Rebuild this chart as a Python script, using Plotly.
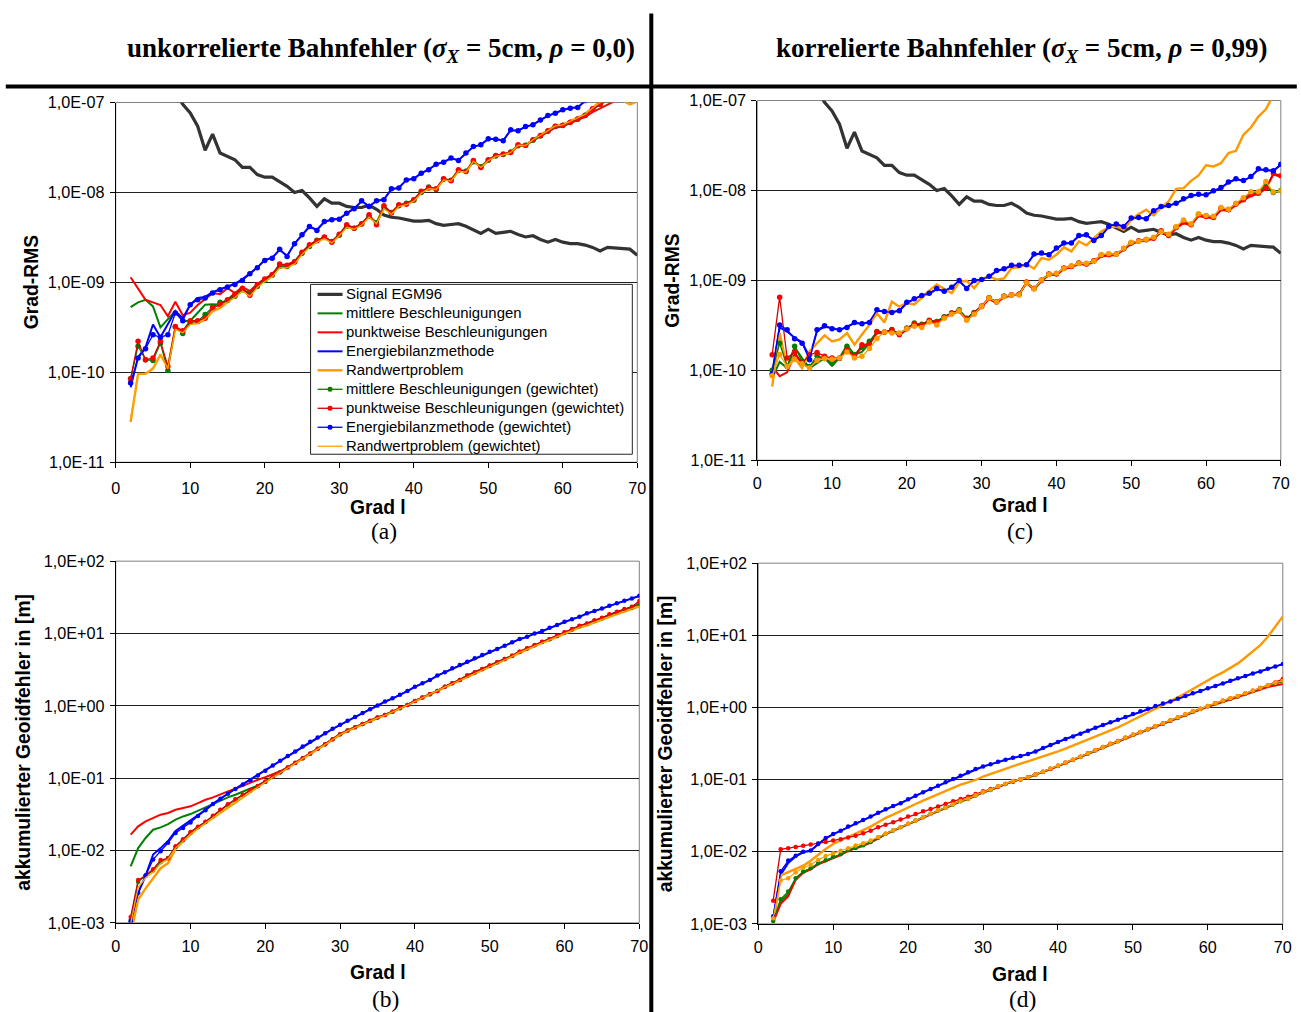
import plotly.graph_objects as go

W, H = 1301, 1012

# Spherical harmonic degree l
GRAD = list(range(2, 71))

# Grad-RMS lists (panels a and c) are given in units of 1e-10
RMS_UNIT = 1e-10

# ---- signal degree RMS (EGM96), shown in panels (a) and (c)
signal_egm96 = [9000, 6500, 4500, 3300, 2400, 1800, 1300, 955, 767, 545,
                295, 445, 275, 251, 231, 190, 190, 158, 148, 148,
                132, 117, 100, 105, 87, 70, 85, 76, 76, 70,
                68, 68, 72, 65, 56, 53, 52, 50, 48, 48,
                49, 45, 43, 44, 45, 42, 38, 35, 39, 35,
                36, 37, 34, 32, 33, 30, 28, 30, 28, 27,
                27, 26, 24.5, 22.4, 24.5, 24, 23.4, 23.4, 20]

# ---- (a) uncorrelated orbit errors, Grad-RMS [1e-10]
a_mittlere = [5.3, 6.0, 6.4, 5.4, 3.16, 3.9, 4.8, 3.7, 3.75, 4.6,
              5.65, 5.7, 5.65, 6.4, 7.6, 8.3, 7.6, 9.2, 10.6, 12.0,
              15.2, 15.2, 17.0, 21.2, 25.5, 29.5, 31.5, 28.5, 33.5, 42.5,
              40.0, 44.5, 54.5, 46.0, 68.0, 60.0, 71.0, 75.0, 82.0, 100.0,
              114.0, 109.0, 140.0, 137.0, 176.0, 172.0, 222.0, 193.0, 229.0, 256.0,
              266.0, 280.0, 333.0, 334.0, 382.0, 428.0, 482.0, 542.0, 558.0, 602.0,
              655.0, 720.0, 845.0, 950.0, 1070.0, 1150.0, 1240.0, 1340.0, 1440.0]
a_punkt = [11.4, 8.5, 6.4, 6.0, 5.6, 4.2, 6.1, 4.3, 4.6, 5.6,
           6.6, 7.6, 7.4, 8.6, 7.6, 8.9, 8.0, 9.6, 11.0, 12.3,
           15.5, 15.8, 17.0, 21.5, 26.0, 29.0, 31.5, 28.5, 34.0, 43.0,
           40.5, 45.0, 55.0, 45.0, 70.0, 60.0, 72.0, 75.0, 83.0, 101.0,
           112.0, 111.0, 140.0, 136.0, 176.0, 172.0, 222.0, 192.0, 230.0, 255.0,
           265.0, 276.0, 330.0, 330.0, 378.0, 420.0, 470.0, 525.0, 545.0, 590.0,
           640.0, 695.0, 780.0, 860.0, 960.0, 1040.0, 1120.0, 1220.0, 1320.0]
a_energie = [0.68, 1.47, 1.9, 3.4, 2.45, 3.4, 4.8, 4.0, 5.65, 6.7,
             6.9, 7.8, 8.4, 9.1, 9.7, 10.8, 12.6, 14.6, 17.8, 18.8,
             23.0, 19.8, 27.0, 33.5, 41.5, 38.5, 47.0, 50.0, 51.0, 58.5,
             66.5, 80.0, 70.5, 80.0, 84.0, 108.0, 113.0, 137.0, 143.0, 163.0,
             180.0, 205.0, 218.0, 240.0, 228.0, 272.0, 322.0, 340.0, 392.0, 393.0,
             378.0, 492.0, 486.0, 538.0, 568.0, 638.0, 712.0, 765.0, 825.0, 870.0,
             885.0, 1040.0, 1150.0, 1250.0, 1350.0, 1450.0, 1550.0, 1650.0, 1800.0]
a_rand = [0.28, 0.96, 0.96, 1.1, 1.57, 1.12, 3.1, 2.8, 3.5, 3.5,
          3.85, 4.8, 5.2, 6.1, 7.0, 8.2, 7.1, 9.0, 10.4, 11.8,
          15.0, 14.8, 16.3, 21.0, 25.0, 28.5, 31.0, 28.0, 33.5, 42.0,
          39.5, 44.0, 54.0, 46.0, 68.0, 58.0, 71.0, 74.0, 81.0, 100.0,
          110.0, 109.0, 140.0, 135.0, 175.0, 170.0, 225.0, 190.0, 228.0, 255.0,
          265.0, 280.0, 338.0, 335.0, 388.0, 435.0, 492.0, 552.0, 570.0, 620.0,
          680.0, 745.0, 880.0, 1010.0, 1060.0, 1090.0, 1060.0, 950.0, 1030.0]
a_mittlere_gew = [0.85, 1.95, 1.38, 1.35, 2.1, 1.05, 3.2, 2.7, 3.6, 3.7,
                  4.4, 5.3, 6.0, 6.3, 7.0, 8.3, 7.5, 9.0, 10.5, 12.0,
                  15.0, 15.0, 17.0, 21.0, 25.0, 29.5, 31.5, 28.5, 33.5, 42.0,
                  40.0, 45.0, 54.0, 46.0, 68.0, 60.0, 71.0, 76.0, 82.0, 100.0,
                  115.0, 108.0, 140.0, 137.0, 175.0, 172.0, 220.0, 193.0, 228.0, 255.0,
                  265.0, 281.0, 330.0, 335.0, 380.0, 425.0, 480.0, 540.0, 560.0, 600.0,
                  650.0, 720.0, 840.0, 950.0, 1070.0, 1150.0, 1240.0, 1340.0, 1440.0]
a_punkt_gew = [0.85, 2.21, 1.38, 1.44, 2.21, 1.17, 3.24, 2.9, 3.75, 3.75,
               4.0, 5.2, 5.65, 6.4, 7.4, 8.6, 7.2, 9.4, 10.9, 12.2,
               16.0, 15.5, 16.8, 21.7, 26.2, 29.0, 32.0, 28.0, 34.4, 43.7,
               40.0, 44.5, 56.5, 43.7, 71.0, 59.0, 73.0, 74.0, 83.0, 103.0,
               112.0, 110.0, 142.0, 135.0, 179.0, 171.0, 227.0, 190.0, 231.0, 258.0,
               267.0, 278.0, 339.0, 333.0, 385.0, 430.0, 484.0, 546.0, 555.0, 604.0,
               658.0, 717.0, 851.0, 956.0, 1080.0, 1150.0, 1250.0, 1350.0, 1450.0]
a_energie_gew = [0.76, 1.44, 1.83, 2.62, 2.45, 2.62, 4.56, 3.75, 5.65, 6.4,
                 6.7, 7.6, 8.3, 8.9, 9.5, 10.5, 12.5, 14.5, 17.5, 18.6,
                 23.4, 19.4, 26.9, 33.9, 41.9, 37.8, 47.6, 49.7, 50.5, 58.9,
                 65.9, 80.7, 69.8, 80.7, 83.0, 110.0, 112.0, 138.0, 142.0, 164.0,
                 179.0, 206.0, 217.0, 241.0, 227.0, 274.0, 324.0, 339.0, 395.0, 391.0,
                 375.0, 497.0, 484.0, 541.0, 565.0, 641.0, 717.0, 761.0, 829.0, 865.0,
                 880.0, 1050.0, 1150.0, 1250.0, 1350.0, 1450.0, 1550.0, 1650.0, 1800.0]
a_rand_gew = [0.3, 0.95, 0.97, 1.12, 1.6, 1.1, 3.0, 2.75, 3.4, 3.5,
              3.9, 4.8, 5.3, 6.0, 6.8, 8.0, 7.0, 8.8, 10.2, 11.5,
              14.5, 14.5, 16.0, 20.5, 24.5, 28.0, 30.5, 27.5, 33.0, 41.0,
              39.0, 43.5, 53.0, 45.0, 66.0, 57.0, 70.0, 73.0, 80.0, 98.0,
              110.0, 108.0, 138.0, 134.0, 172.0, 168.0, 222.0, 190.0, 226.0, 252.0,
              262.0, 278.0, 335.0, 333.0, 385.0, 432.0, 490.0, 550.0, 565.0, 615.0,
              675.0, 740.0, 870.0, 1000.0, 1050.0, 1100.0, 1080.0, 960.0, 1040.0]

# ---- (c) correlated orbit errors, Grad-RMS [1e-10]
c_mittlere = [0.82, 1.24, 1.06, 1.8, 1.37, 1.06, 1.2, 1.37, 1.12, 1.37,
              1.9, 1.49, 1.6, 2.0, 2.6, 2.6, 2.8, 2.5, 2.9, 3.3,
              3.2, 3.55, 3.45, 3.9, 4.3, 4.65, 3.75, 4.35, 5.15, 6.3,
              5.75, 6.6, 6.85, 6.95, 9.4, 8.0, 10.0, 11.6, 11.8, 13.5,
              14.2, 15.4, 15.2, 16.3, 19.0, 19.3, 19.4, 22.4, 26.0, 27.2,
              28.2, 29.5, 35.0, 31.8, 38.6, 45.0, 41.8, 53.5, 51.5, 50.5,
              63.0, 61.0, 70.5, 79.5, 91.0, 94.5, 113.0, 94.0, 99.0]
c_punkt = [1.1, 0.86, 0.95, 1.5, 1.2, 1.06, 1.4, 1.37, 1.2, 1.37,
           1.7, 1.45, 1.8, 1.95, 2.6, 2.6, 2.75, 2.45, 2.85, 3.2,
           3.15, 3.5, 3.4, 3.8, 4.25, 4.5, 3.65, 4.25, 5.05, 6.2,
           5.6, 6.5, 6.8, 7.0, 9.3, 7.9, 9.8, 11.5, 11.5, 13.4,
           14.0, 15.2, 14.8, 16.1, 18.5, 18.8, 19.2, 22.0, 25.4, 27.0,
           27.7, 28.8, 34.5, 30.8, 37.8, 43.3, 40.7, 52.0, 50.0, 49.0,
           60.5, 59.5, 68.5, 76.5, 87.0, 91.0, 105.0, 150.0, 142.0]
c_energie = [0.95, 3.0, 2.7, 2.3, 2.05, 1.4, 2.75, 3.05, 2.95, 2.8,
             3.05, 3.35, 3.3, 3.45, 4.6, 4.5, 4.45, 4.6, 5.6, 6.2,
             6.8, 7.1, 8.0, 7.6, 8.4, 9.8, 8.2, 9.9, 10.2, 11.0,
             12.7, 13.4, 14.5, 14.6, 14.9, 19.3, 19.9, 19.4, 22.6, 25.7,
             26.0, 31.2, 31.8, 28.0, 31.4, 39.4, 41.8, 39.6, 48.8, 49.6,
             48.4, 58.8, 65.5, 67.4, 72.0, 80.0, 87.0, 90.0, 89.0, 98.0,
             107.0, 122.0, 133.0, 128.0, 142.0, 171.0, 168.0, 165.0, 193.0]
c_rand = [0.66, 2.6, 1.06, 1.37, 1.06, 1.63, 2.0, 2.45, 2.1, 2.2,
          2.6, 1.93, 2.5, 3.2, 4.3, 3.4, 5.8, 5.1, 5.6, 5.4,
          6.4, 7.7, 9.0, 8.0, 7.2, 9.6, 9.9, 8.2, 10.4, 11.1,
          10.2, 10.5, 13.7, 14.0, 15.2, 13.5, 17.7, 17.0, 19.3, 23.3,
          21.0, 27.1, 24.5, 29.5, 35.0, 38.8, 39.8, 36.6, 47.2, 54.6,
          61.0, 52.7, 64.7, 75.5, 104.0, 106.0, 128.0, 147.0, 190.0, 185.0,
          201.0, 260.0, 276.0, 416.0, 501.0, 664.0, 800.0, 1150.0, 1400.0]
c_mittlere_gew = [1.0, 2.0, 1.1, 1.85, 1.25, 1.1, 1.45, 1.35, 1.2, 1.35,
                  1.85, 1.5, 1.8, 2.1, 2.7, 2.65, 2.85, 2.55, 2.95, 3.35,
                  3.25, 3.6, 3.5, 3.95, 4.35, 4.7, 3.8, 4.4, 5.2, 6.4,
                  5.8, 6.7, 6.9, 7.0, 9.5, 8.1, 10.1, 11.7, 11.9, 13.6,
                  14.4, 15.5, 15.3, 16.4, 19.2, 19.5, 19.5, 22.6, 26.2, 27.4,
                  28.5, 29.8, 35.2, 32.0, 39.0, 45.5, 42.0, 54.0, 52.0, 50.8,
                  63.5, 61.5, 71.0, 80.0, 92.0, 95.0, 115.0, 95.0, 100.0]
c_punkt_gew = [1.49, 6.5, 1.37, 1.6, 1.2, 1.49, 1.58, 1.43, 1.37, 1.37,
               1.7, 1.43, 1.93, 1.93, 2.67, 2.67, 2.8, 2.49, 2.9, 3.27,
               3.2, 3.56, 3.45, 3.88, 4.34, 4.6, 3.72, 4.34, 5.14, 6.36,
               5.74, 6.64, 6.93, 7.0, 9.6, 8.1, 10.0, 11.8, 11.8, 13.7,
               14.3, 15.6, 15.2, 16.5, 19.0, 19.3, 19.6, 22.5, 26.0, 27.6,
               28.3, 29.5, 35.6, 31.6, 38.8, 44.5, 41.6, 53.7, 51.4, 50.1,
               62.5, 61.0, 70.5, 78.7, 89.5, 93.3, 106.0, 156.0, 146.0]
c_energie_gew = [0.91, 3.2, 2.83, 2.25, 2.0, 1.31, 2.83, 3.13, 2.9, 2.83,
                 3.0, 3.4, 3.3, 3.4, 4.7, 4.5, 4.4, 4.6, 5.7, 6.25,
                 6.8, 7.2, 8.1, 7.55, 8.4, 10.0, 8.1, 10.0, 10.2, 11.1,
                 12.9, 13.5, 14.7, 14.7, 14.9, 19.6, 20.1, 19.3, 22.9, 26.0,
                 26.0, 31.6, 32.2, 27.8, 31.6, 39.8, 42.3, 39.8, 49.3, 50.1,
                 48.4, 59.4, 66.4, 68.1, 72.3, 80.8, 88.0, 91.0, 89.5, 99.0,
                 108.0, 124.0, 135.0, 129.0, 143.0, 174.0, 170.0, 166.0, 196.0]
c_rand_gew = [0.87, 1.5, 1.1, 1.33, 1.18, 1.06, 1.29, 1.35, 1.33, 1.37,
              1.6, 1.37, 1.43, 1.75, 2.26, 2.67, 2.6, 2.6, 2.9, 3.1,
              3.0, 3.45, 3.2, 3.8, 4.2, 4.6, 3.6, 4.2, 5.14, 6.36,
              5.74, 6.64, 6.9, 6.9, 9.4, 8.0, 10.1, 11.6, 12.0, 13.6,
              14.5, 15.4, 15.5, 16.3, 19.4, 19.8, 19.5, 22.8, 26.5, 27.2,
              28.7, 30.2, 34.8, 32.5, 39.5, 47.0, 42.5, 55.0, 52.5, 51.5,
              64.5, 62.0, 72.0, 83.0, 97.0, 97.0, 126.0, 96.0, 99.0]

# ---- (b) uncorrelated orbit errors, accumulated geoid error [m]
b_mittlere = [0.00605, 0.0108, 0.0149, 0.0194, 0.0209, 0.0232, 0.0267, 0.0296, 0.0319, 0.0355,
              0.0394, 0.0439, 0.0488, 0.0542, 0.059, 0.066, 0.072, 0.079, 0.0905, 0.1045,
              0.121, 0.141, 0.163, 0.189, 0.219, 0.255, 0.295, 0.346, 0.406, 0.456,
              0.507, 0.563, 0.62, 0.689, 0.75, 0.83, 0.93, 1.03, 1.17, 1.3,
              1.45, 1.61, 1.84, 2.05, 2.28, 2.62, 2.9, 3.22, 3.58, 3.98,
              4.42, 4.9, 5.56, 6.18, 6.86, 7.62, 8.3, 9.2, 10.2, 11.3,
              12.5, 13.5, 14.9, 16.1, 17.9, 19.4, 21.1, 22.7, 25.2]
b_punkt = [0.0166, 0.0216, 0.0253, 0.0281, 0.0313, 0.033, 0.0366, 0.0386, 0.0408, 0.0453,
           0.0503, 0.0542, 0.0603, 0.0656, 0.0714, 0.079, 0.087, 0.095, 0.103, 0.113,
           0.125, 0.141, 0.163, 0.189, 0.219, 0.255, 0.295, 0.346, 0.406, 0.456,
           0.507, 0.563, 0.62, 0.689, 0.75, 0.83, 0.93, 1.03, 1.17, 1.3,
           1.45, 1.61, 1.84, 2.05, 2.28, 2.62, 2.91, 3.24, 3.6, 4.0,
           4.45, 4.94, 5.6, 6.22, 6.9, 7.68, 8.35, 9.28, 10.3, 11.4,
           12.6, 13.6, 15.0, 16.2, 18.0, 19.5, 21.2, 22.6, 25.0]
b_energie = [0.00096, 0.0026, 0.0045, 0.0088, 0.0108, 0.0135, 0.0186, 0.0219, 0.0257, 0.0305,
             0.0365, 0.0445, 0.0525, 0.0615, 0.0715, 0.083, 0.0955, 0.111, 0.128, 0.149,
             0.173, 0.2, 0.232, 0.272, 0.316, 0.363, 0.417, 0.479, 0.544, 0.618,
             0.7, 0.795, 0.894, 1.0, 1.14, 1.26, 1.41, 1.6, 1.83, 2.04,
             2.27, 2.61, 2.9, 3.28, 3.65, 4.06, 4.52, 5.02, 5.58, 6.07,
             6.75, 7.5, 8.34, 8.98, 9.95, 10.7, 11.9, 13.0, 14.4, 15.7,
             17.0, 18.9, 20.3, 22.1, 24.1, 26.0, 28.3, 30.4, 33.0]
b_rand = [0.0007, 0.0021, 0.003, 0.0041, 0.0057, 0.0067, 0.0106, 0.0134, 0.0166, 0.0205,
          0.024, 0.0281, 0.033, 0.0386, 0.046, 0.0545, 0.0648, 0.076, 0.0885, 0.1025,
          0.1185, 0.1385, 0.1605, 0.1865, 0.2165, 0.2515, 0.2915, 0.341, 0.399, 0.449,
          0.499, 0.554, 0.609, 0.678, 0.738, 0.818, 0.918, 1.018, 1.15, 1.28,
          1.43, 1.58, 1.8, 2.01, 2.24, 2.56, 2.85, 3.17, 3.52, 3.91,
          4.34, 4.82, 5.45, 6.05, 6.72, 7.46, 8.12, 9.0, 9.95, 10.95,
          12.1, 13.0, 14.3, 15.4, 17.0, 18.5, 20.1, 21.7, 23.8]
b_mittlere_gew = [0.0011, 0.0037, 0.0045, 0.0053, 0.0069, 0.0079, 0.0112, 0.0139, 0.0176, 0.021,
                  0.0248, 0.0298, 0.0362, 0.043, 0.0505, 0.0585, 0.0675, 0.0774, 0.0893, 0.104,
                  0.1205, 0.1405, 0.1625, 0.1885, 0.2185, 0.2545, 0.2945, 0.345, 0.405, 0.455,
                  0.506, 0.562, 0.619, 0.688, 0.749, 0.829, 0.929, 1.03, 1.17, 1.3,
                  1.45, 1.61, 1.84, 2.05, 2.28, 2.62, 2.9, 3.23, 3.59, 3.99,
                  4.43, 4.92, 5.58, 6.2, 6.88, 7.65, 8.32, 9.25, 10.3, 11.4,
                  12.6, 13.6, 15.0, 16.2, 18.0, 19.6, 21.3, 22.9, 25.5]
b_punkt_gew = [0.00121, 0.0039, 0.0045, 0.0055, 0.0074, 0.0078, 0.0115, 0.0143, 0.018, 0.0214,
               0.025, 0.0302, 0.0367, 0.0436, 0.0512, 0.059, 0.068, 0.078, 0.0895, 0.1045,
               0.121, 0.141, 0.163, 0.189, 0.219, 0.255, 0.295, 0.346, 0.406, 0.456,
               0.507, 0.563, 0.62, 0.689, 0.75, 0.83, 0.93, 1.03, 1.17, 1.3,
               1.45, 1.61, 1.84, 2.05, 2.28, 2.62, 2.91, 3.24, 3.6, 4.0,
               4.45, 4.94, 5.61, 6.24, 6.93, 7.71, 8.39, 9.33, 10.4, 11.5,
               12.8, 13.8, 15.3, 16.5, 18.4, 20.0, 21.8, 23.4, 28.1]
b_energie_gew = [0.00105, 0.0026, 0.0045, 0.0075, 0.0098, 0.0128, 0.0175, 0.0205, 0.0245, 0.03,
                 0.036, 0.044, 0.052, 0.061, 0.071, 0.082, 0.094, 0.109, 0.127, 0.15,
                 0.174, 0.202, 0.234, 0.274, 0.318, 0.365, 0.419, 0.481, 0.546, 0.62,
                 0.703, 0.798, 0.897, 1.01, 1.15, 1.27, 1.42, 1.61, 1.84, 2.05,
                 2.28, 2.62, 2.91, 3.3, 3.67, 4.08, 4.54, 5.05, 5.61, 6.1,
                 6.79, 7.55, 8.39, 9.04, 10.0, 10.8, 12.0, 13.1, 14.5, 15.8,
                 17.1, 19.0, 20.4, 22.2, 24.2, 26.1, 28.4, 30.5, 33.2]
b_rand_gew = [0.00098, 0.0031, 0.0042, 0.005, 0.0066, 0.0076, 0.0108, 0.0135, 0.0168, 0.0202,
              0.024, 0.0288, 0.0338, 0.0398, 0.0468, 0.055, 0.0652, 0.0765, 0.089, 0.103,
              0.119, 0.139, 0.161, 0.187, 0.217, 0.252, 0.292, 0.342, 0.4, 0.45,
              0.5, 0.555, 0.61, 0.68, 0.74, 0.82, 0.92, 1.02, 1.15, 1.28,
              1.43, 1.59, 1.81, 2.02, 2.25, 2.57, 2.86, 3.18, 3.53, 3.92,
              4.35, 4.83, 5.47, 6.08, 6.75, 7.5, 8.15, 9.05, 10.0, 11.0,
              12.2, 13.1, 14.4, 15.5, 17.1, 18.6, 20.2, 21.8, 24.0]

# ---- (d) correlated orbit errors, accumulated geoid error [m]
d_mittlere = [0.00111, 0.00206, 0.0026, 0.0042, 0.0052, 0.0058, 0.0068, 0.0075, 0.0084, 0.0091,
              0.0104, 0.0112, 0.0122, 0.0135, 0.0155, 0.0176, 0.0196, 0.0218, 0.0243, 0.027,
              0.03, 0.0334, 0.0371, 0.0404, 0.045, 0.05, 0.0538, 0.0599, 0.0667, 0.0718,
              0.0798, 0.0869, 0.0946, 0.1, 0.107, 0.117, 0.127, 0.14, 0.154, 0.17,
              0.187, 0.205, 0.229, 0.254, 0.28, 0.311, 0.339, 0.377, 0.415, 0.452,
              0.497, 0.547, 0.596, 0.655, 0.721, 0.793, 0.873, 0.95, 1.035, 1.13,
              1.23, 1.32, 1.42, 1.55, 1.69, 1.84, 2.0, 2.15, 2.3]
d_punkt = [0.00105, 0.0019, 0.0024, 0.0041, 0.0051, 0.0057, 0.0067, 0.0074, 0.0083, 0.009,
           0.0103, 0.0111, 0.0121, 0.0134, 0.0154, 0.0175, 0.0195, 0.0217, 0.0242, 0.0269,
           0.0299, 0.0333, 0.037, 0.0403, 0.0449, 0.0499, 0.0537, 0.0598, 0.0666, 0.0717,
           0.0797, 0.0868, 0.0945, 0.1, 0.107, 0.117, 0.127, 0.14, 0.154, 0.17,
           0.187, 0.205, 0.228, 0.253, 0.279, 0.31, 0.338, 0.375, 0.413, 0.45,
           0.494, 0.543, 0.591, 0.649, 0.714, 0.785, 0.863, 0.938, 1.02, 1.11,
           1.21, 1.29, 1.39, 1.51, 1.64, 1.78, 1.92, 2.02, 2.11]
d_energie = [0.0012, 0.0048, 0.007, 0.0086, 0.0098, 0.0103, 0.0127, 0.0153, 0.0174, 0.0195,
             0.0221, 0.0246, 0.0273, 0.0305, 0.0346, 0.0385, 0.0429, 0.0467, 0.053, 0.0596,
             0.0664, 0.0738, 0.082, 0.0912, 0.1015, 0.1125, 0.1255, 0.1395, 0.1515, 0.1625,
             0.1755, 0.1885, 0.1995, 0.2115, 0.2255, 0.2455, 0.2735, 0.3005, 0.3315, 0.3645,
             0.3965, 0.4315, 0.4755, 0.5235, 0.5695, 0.6205, 0.6755, 0.7355, 0.8105, 0.8825,
             0.9595, 1.044, 1.136, 1.209, 1.319, 1.439, 1.569, 1.689, 1.839, 1.979,
             2.149, 2.339, 2.529, 2.719, 2.959, 3.159, 3.439, 3.699, 3.989]
d_rand = [0.00095, 0.0047, 0.0052, 0.0058, 0.0064, 0.0075, 0.0091, 0.0109, 0.0128, 0.0143,
          0.0158, 0.0176, 0.0196, 0.0223, 0.0256, 0.0294, 0.0327, 0.0363, 0.0413, 0.0459,
          0.051, 0.0568, 0.0631, 0.0703, 0.0766, 0.0851, 0.0917, 0.0987, 0.11, 0.12,
          0.13, 0.143, 0.156, 0.166, 0.179, 0.193, 0.21, 0.226, 0.246, 0.268,
          0.295, 0.321, 0.353, 0.389, 0.432, 0.476, 0.53, 0.595, 0.669, 0.752,
          0.845, 0.95, 1.08, 1.23, 1.38, 1.57, 1.8, 2.09, 2.39, 2.72,
          3.06, 3.52, 4.08, 4.93, 5.98, 7.32, 9.55, 13.1, 18.2]
d_mittlere_gew = [0.0011, 0.0022, 0.0028, 0.0043, 0.0053, 0.0059, 0.0069, 0.0076, 0.0085, 0.0092,
                  0.0105, 0.0113, 0.0123, 0.0136, 0.0156, 0.0177, 0.0197, 0.0219, 0.0244, 0.0271,
                  0.0301, 0.0335, 0.0372, 0.0406, 0.0452, 0.0502, 0.054, 0.0601, 0.0669, 0.072,
                  0.08, 0.0872, 0.095, 0.1005, 0.1075, 0.1175, 0.1275, 0.1405, 0.1545, 0.1705,
                  0.1875, 0.2055, 0.2295, 0.2545, 0.2805, 0.3115, 0.3395, 0.3775, 0.4155, 0.4525,
                  0.4975, 0.5475, 0.5965, 0.6555, 0.7215, 0.7935, 0.8735, 0.9505, 1.036, 1.131,
                  1.231, 1.321, 1.421, 1.551, 1.691, 1.841, 2.0, 2.16, 2.32]
d_punkt_gew = [0.0021, 0.0108, 0.0112, 0.0116, 0.0121, 0.0126, 0.0131, 0.0136, 0.0143, 0.0149,
               0.0158, 0.0166, 0.018, 0.0196, 0.0218, 0.0237, 0.0256, 0.0279, 0.0307, 0.0334,
               0.0363, 0.0392, 0.0422, 0.0459, 0.05, 0.0538, 0.058, 0.0631, 0.0688, 0.0741,
               0.0798, 0.0869, 0.0935, 0.101, 0.108, 0.118, 0.128, 0.141, 0.155, 0.171,
               0.188, 0.207, 0.231, 0.256, 0.283, 0.314, 0.342, 0.38, 0.418, 0.456,
               0.5, 0.55, 0.6, 0.66, 0.726, 0.8, 0.88, 0.96, 1.045, 1.14,
               1.24, 1.33, 1.43, 1.56, 1.7, 1.86, 2.02, 2.22, 2.47]
d_energie_gew = [0.00128, 0.00536, 0.00753, 0.00883, 0.01, 0.0104, 0.0128, 0.0155, 0.0176, 0.0196,
                 0.0223, 0.0248, 0.0275, 0.0307, 0.0348, 0.0387, 0.0431, 0.0469, 0.0533, 0.0599,
                 0.0667, 0.0741, 0.0824, 0.0916, 0.102, 0.113, 0.126, 0.14, 0.152, 0.163,
                 0.176, 0.189, 0.2, 0.212, 0.226, 0.246, 0.274, 0.301, 0.332, 0.365,
                 0.397, 0.432, 0.476, 0.524, 0.57, 0.621, 0.676, 0.736, 0.811, 0.883,
                 0.96, 1.045, 1.137, 1.21, 1.32, 1.44, 1.57, 1.69, 1.84, 1.98,
                 2.15, 2.34, 2.53, 2.72, 2.96, 3.16, 3.44, 3.7, 3.99]
d_rand_gew = [0.0012, 0.004, 0.0043, 0.0052, 0.006, 0.0066, 0.0077, 0.0087, 0.0095, 0.0103,
              0.0112, 0.0122, 0.0131, 0.0143, 0.016, 0.0178, 0.0198, 0.022, 0.0245, 0.0272,
              0.0303, 0.0337, 0.0375, 0.0408, 0.0455, 0.0505, 0.0544, 0.0605, 0.0673, 0.0725,
              0.0806, 0.0878, 0.0955, 0.101, 0.108, 0.118, 0.128, 0.142, 0.156, 0.172,
              0.189, 0.208, 0.232, 0.257, 0.284, 0.315, 0.344, 0.382, 0.42, 0.458,
              0.503, 0.553, 0.604, 0.663, 0.73, 0.803, 0.884, 0.962, 1.048, 1.145,
              1.245, 1.338, 1.44, 1.57, 1.715, 1.87, 2.03, 2.2, 2.34]

SERIES_NAMES = ["Signal EGM96",
                "mittlere Beschleunigungen",
                "punktweise Beschleunigungen",
                "Energiebilanzmethode",
                "Randwertproblem",
                "mittlere Beschleunigungen (gewichtet)",
                "punktweise Beschleunigungen (gewichtet)",
                "Energiebilanzmethode (gewichtet)",
                "Randwertproblem (gewichtet)"]

RMS_TICKS = [1e-11, 1e-10, 1e-9, 1e-8, 1e-7]
RMS_TICKTEXT = ["1,0E-11", "1,0E-10", "1,0E-09", "1,0E-08", "1,0E-07"]
GEOID_TICKS = [1e-3, 1e-2, 1e-1, 1e0, 1e1, 1e2]
GEOID_TICKTEXT = ["1,0E-03", "1,0E-02", "1,0E-01", "1,0E+00", "1,0E+01", "1,0E+02"]
X_TICKS = [0, 10, 20, 30, 40, 50, 60, 70]

SANS = "Liberation Sans, Arial, sans-serif"
SERIF = "Liberation Serif, Times New Roman, serif"

GREEN, RED, BLUE, ORANGE = "#008000", "#FF0000", "#0000FF", "#FF9900"
SIGNAL_GREY, DARK_RED, LIGHT_ORANGE = "#333333", "#D00000", "#FFA500"

# line style per series: (line colour, width, markers, marker colour)
STYLES = [(SIGNAL_GREY, 3.2, False, None),
          (GREEN, 2, False, None),
          (RED, 2, False, None),
          (BLUE, 2, False, None),
          (ORANGE, 2.4, False, None),
          (GREEN, 1.3, True, GREEN),
          (DARK_RED, 1.3, True, RED),
          (BLUE, 1.3, True, BLUE),
          (LIGHT_ORANGE, 1.3, False, ORANGE)]

# Layout positions are written in on-screen pixels of the displayed page.
# The page shows the figure with a small shift and scale, undone here.
SHIFT_X, SHIFT_Y = 4.2, 7.4
SCALE_X, SCALE_Y = 0.99, 0.983


def px(x):
    return ((x - SHIFT_X) / SCALE_X) / W


def py(y):
    return 1 - ((y - SHIFT_Y) / SCALE_Y) / H


fig = go.Figure()


def line(ax, values, idx, scale, msize, markers=None):
    assert len(values) == len(GRAD)
    color, width, mk, mcolor = STYLES[idx]
    if markers is not None:
        mk = markers
    xa, ya = ax
    fig.add_trace(go.Scatter(
        x=GRAD, y=[v * scale for v in values], name=SERIES_NAMES[idx],
        xaxis=xa, yaxis=ya,
        mode="lines+markers" if mk else "lines",
        line=dict(color=color, width=width),
        marker=dict(size=msize, color=mcolor or color, line=dict(width=0)),
        showlegend=False, hoverinfo="skip"))


def panel(ax, sig, series, scale, msize, rand_markers):
    if sig is not None:
        line(ax, sig, 0, scale, msize)
    for i, values in enumerate(series, start=1):
        line(ax, values, i, scale, msize,
             markers=rand_markers if i == 8 else None)


panel(("x", "y"), signal_egm96,
      (a_mittlere, a_punkt, a_energie, a_rand,
       a_mittlere_gew, a_punkt_gew, a_energie_gew, a_rand_gew),
      RMS_UNIT, 5.5, False)
panel(("x2", "y2"), None,
      (b_mittlere, b_punkt, b_energie, b_rand,
       b_mittlere_gew, b_punkt_gew, b_energie_gew, b_rand_gew),
      1.0, 4.5, False)
panel(("x3", "y3"), signal_egm96,
      (c_mittlere, c_punkt, c_energie, c_rand,
       c_mittlere_gew, c_punkt_gew, c_energie_gew, c_rand_gew),
      RMS_UNIT, 5.5, True)
panel(("x4", "y4"), None,
      (d_mittlere, d_punkt, d_energie, d_rand,
       d_mittlere_gew, d_punkt_gew, d_energie_gew, d_rand_gew),
      1.0, 4.5, True)

# plot-area boxes in pixels: left, top, right, bottom
BOXES = {
    "": (115, 101, 637, 461),
    "2": (115, 560, 639, 922),
    "3": (757, 99, 1281, 459),
    "4": (758, 562, 1283, 923),
}
# gap between x axis line and its tick labels, per panel
X_LABEL_GAP = {"": 6, "2": 4, "3": 3, "4": 4}

axis_font = dict(family=SANS, size=16.2, color="black")
layout_axes = {}
for suffix, (l, t, r, b) in BOXES.items():
    is_rms = suffix in ("", "3")
    layout_axes["xaxis" + suffix] = dict(
        domain=[px(l), px(r)], anchor="y" + suffix, range=[0, 70],
        tickvals=X_TICKS, ticks="outside", ticklen=5, tickcolor="black",
        showline=True, linecolor="black", linewidth=1, showgrid=False,
        zeroline=False, tickfont=axis_font,
        ticklabelstandoff=X_LABEL_GAP[suffix], fixedrange=True)
    layout_axes["yaxis" + suffix] = dict(
        domain=[py(b), py(t)], anchor="x" + suffix, type="log",
        range=[-11, -7] if is_rms else [-3, 2],
        tickvals=RMS_TICKS if is_rms else GEOID_TICKS,
        ticktext=RMS_TICKTEXT if is_rms else GEOID_TICKTEXT,
        ticks="outside", ticklen=5, tickcolor="black",
        showline=True, linecolor="black", linewidth=1,
        showgrid=True, gridcolor="#222222", gridwidth=1,
        zeroline=False, tickfont=axis_font, ticklabelstandoff=2,
        fixedrange=True)

shapes = []
for suffix, (l, t, r, b) in BOXES.items():
    shapes.append(dict(type="rect", xref="paper", yref="paper",
                       x0=px(l), x1=px(r), y0=py(b), y1=py(t),
                       line=dict(color="#808080", width=1), layer="below"))
# separators between the two columns and below the headers
shapes.append(dict(type="line", xref="paper", yref="paper",
                   x0=px(5), x1=px(1297), y0=py(85), y1=py(85),
                   line=dict(color="black", width=4)))
shapes.append(dict(type="line", xref="paper", yref="paper",
                   x0=px(651), x1=px(651), y0=py(12), y1=py(1012),
                   line=dict(color="black", width=4)))


def text(x, y, s, size, family=SANS, angle=0, anchor="center"):
    return dict(x=px(x), y=py(y), xref="paper", yref="paper", text=s,
                showarrow=False, textangle=angle, xanchor=anchor,
                yanchor="middle", borderpad=0,
                font=dict(family=family, size=size, color="black"))


annotations = [
    text(380, 48, "<b>unkorrelierte Bahnfehler (<i>σ</i><sub><i>X</i></sub> = 5cm, "
                  "<i>ρ</i> = 0,0)</b>", 27, SERIF),
    text(1022, 48, "<b>korrelierte Bahnfehler (<i>σ</i><sub><i>X</i></sub> = 5cm, "
                   "<i>ρ</i> = 0,99)</b>", 27, SERIF),
    text(31, 281, "<b>Grad-RMS</b>", 19.3, angle=-90),
    text(672, 279, "<b>Grad-RMS</b>", 19.3, angle=-90),
    text(22, 741, "<b>akkumulierter Geoidfehler in [m]</b>", 19.3, angle=-90),
    text(665, 743, "<b>akkumulierter Geoidfehler in [m]</b>", 19.3, angle=-90),
    text(377, 506, "<b>Grad l</b>", 19.3),
    text(1020, 504, "<b>Grad l</b>", 19.3),
    text(377, 972, "<b>Grad l</b>", 19.3),
    text(1020, 974, "<b>Grad l</b>", 19.3),
    text(383, 530, "(a)", 23.5, SERIF),
    text(1020, 530, "(c)", 23.5, SERIF),
    text(385, 998, "(b)", 23.5, SERIF),
    text(1022, 998, "(d)", 23.5, SERIF),
]

# legend box inside panel (a): white frame, sample line (+ dot) and label per series
LEG_L, LEG_T, LEG_R, LEG_B = 310, 283, 632, 453
shapes.append(dict(type="rect", xref="paper", yref="paper",
                   x0=px(LEG_L), x1=px(LEG_R), y0=py(LEG_B), y1=py(LEG_T),
                   fillcolor="white", line=dict(color="#222222", width=1),
                   layer="above"))
for i, name in enumerate(SERIES_NAMES):
    yy = 293 + 19 * i
    color, width, mk, mcolor = STYLES[i]
    shapes.append(dict(type="line", xref="paper", yref="paper",
                       x0=px(317), x1=px(342), y0=py(yy), y1=py(yy),
                       line=dict(color=color, width=width), layer="above"))
    if mk:
        shapes.append(dict(type="circle", xref="paper", yref="paper",
                           x0=px(327), x1=px(332), y0=py(yy + 2.5), y1=py(yy - 2.5),
                           fillcolor=mcolor, line=dict(width=0), layer="above"))
    annotations.append(text(344, yy, name, 14.9, anchor="left"))

fig.update_layout(
    width=W, height=H, autosize=False,
    margin=dict(l=0, r=0, t=0, b=0),
    paper_bgcolor="white", plot_bgcolor="white",
    font=dict(family=SANS, color="black"),
    showlegend=False,
    shapes=shapes, annotations=annotations,
    **layout_axes,
)

fig.write_html("out.html")
